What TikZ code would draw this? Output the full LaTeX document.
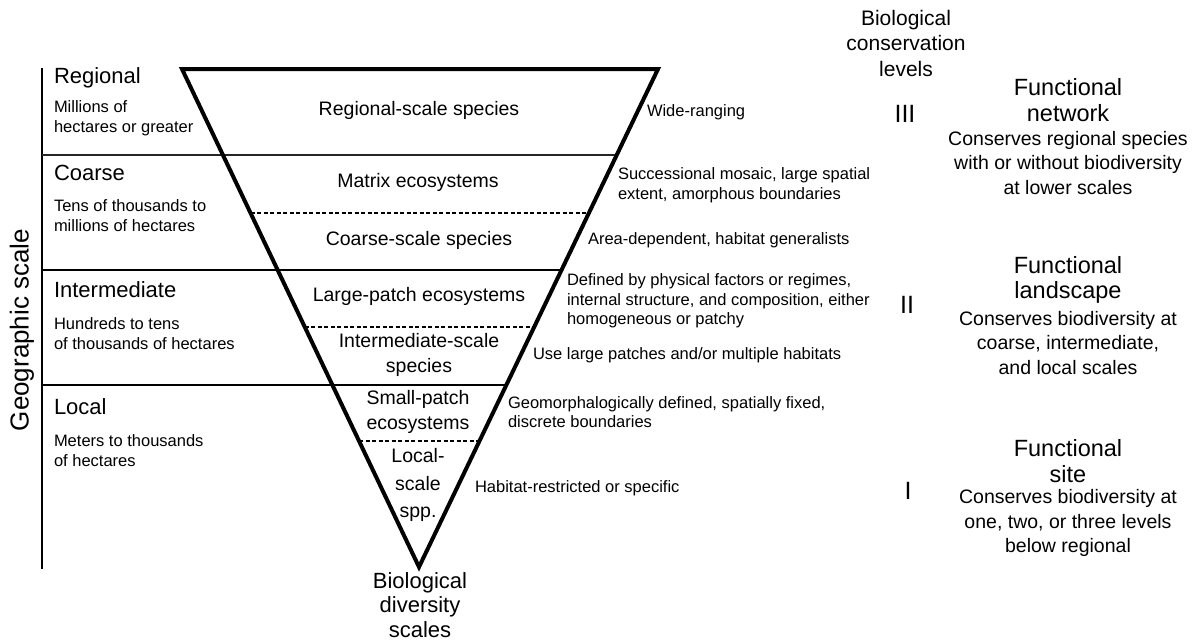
\documentclass[tikz,border=0pt]{standalone}
\usepackage{fontspec}
\setmainfont{Liberation Sans}
\usetikzlibrary{calc}

\begin{document}
\begin{tikzpicture}[x=1pt,y=-1pt,
  every node/.style={inner sep=0pt, outer sep=0pt},
  scalehead/.style={font=\fontsize{22}{25}\selectfont, anchor=west},
  scalenote/.style={font=\fontsize{16.5}{20}\selectfont, align=left, anchor=west},
  tierlabel/.style={font=\fontsize{19.5}{25}\selectfont, align=center},
  sidenote/.style={font=\fontsize{16.5}{19.5}\selectfont, align=left, anchor=west},
  levelnum/.style={font=\fontsize{25}{25}\selectfont},
  levelhead/.style={font=\fontsize{23.5}{25.5}\selectfont, align=center},
  leveltext/.style={font=\fontsize{19.5}{24.5}\selectfont, align=center},
  wedge/.style={line width=4pt, line join=miter},
  bandline/.style={line width=2pt},
  subline/.style={line width=1.3pt, dash pattern=on 4pt off 2.5pt},
]
\useasboundingbox (0,0) rectangle (1199,641);

% inverted triangle of biological diversity scales
\coordinate (tl) at (182,69);
\coordinate (tr) at (658,69);
\coordinate (ap) at (419,567);

% geographic scale axis and band boundaries
\coordinate (axtop) at (42,68);
\coordinate (axbot) at (42,569);
\draw[line width=2pt] (axtop) -- (axbot);

\coordinate (b1l) at (42,155);  \coordinate (b1r) at (616.7,155);
\coordinate (b2l) at (42,270);  \coordinate (b2r) at (561.5,270);
\coordinate (b3l) at (42,385);  \coordinate (b3r) at (506.3,385);
\draw[line width=1.3pt, black!85] (b1l) -- (b1r);
\draw[bandline] (b2l) -- (b2r);
\draw[bandline] (b3l) -- (b3r);

% dashed splits inside the triangle
\coordinate (d1l) at (250.5,213); \coordinate (d1r) at (588.9,213);
\coordinate (d2l) at (304.8,327); \coordinate (d2r) at (534.2,327);
\coordinate (d3l) at (359.0,441); \coordinate (d3r) at (479.5,441);
\draw[subline] (d1l) -- (d1r);
\draw[subline] (d2l) -- (d2r);
\draw[subline] (d3l) -- (d3r);

\draw[wedge] (tl) -- (tr) -- (ap) -- cycle;

% axis title
\node[rotate=90, font=\fontsize{26}{26}\selectfont] (geo) at (22,330) {Geographic scale};

% geographic scale bands
\node[scalehead] (reg)  at (54,78)  {Regional};
\node[scalenote] (regn) at (54,118) {Millions of\\hectares or greater};
\node[scalehead] (coa)  at (54,173) {Coarse};
\node[scalenote] (coan) at (54,216) {Tens of thousands to\\millions of hectares};
\node[scalehead] (int)  at (54,290) {Intermediate};
\node[scalenote] (intn) at (54,334) {Hundreds to tens\\of thousands of hectares};
\node[scalehead] (loc)  at (54,407) {Local};
\node[scalenote] (locn) at (54,451) {Meters to thousands\\of hectares};

% tiers inside the triangle
\node[tierlabel] (t1) at (419,110) {Regional-scale species};
\node[tierlabel] (t2) at (418,182) {Matrix ecosystems};
\node[tierlabel] (t3) at (419,240) {Coarse-scale species};
\node[tierlabel] (t4) at (419,296) {Large-patch ecosystems};
\node[tierlabel] (t5) at (419,355) {Intermediate-scale\\species};
\node[tierlabel] (t6) at (418,412) {Small-patch\\ecosystems};
\node[tierlabel, font=\fontsize{19.5}{27.5}\selectfont] (t7) at (418,485) {Local-\\scale\\spp.};
\node[tierlabel, font=\fontsize{22}{24.5}\selectfont] (bds) at (420,605) {Biological\\diversity\\scales};

% tier characteristics
\node[sidenote] (s1) at (647,112) {Wide-ranging};
\node[sidenote] (s2) at (618,185) {Successional mosaic, large spatial\\extent, amorphous boundaries};
\node[sidenote] (s3) at (588,240) {Area-dependent, habitat generalists};
\node[sidenote] (s4) at (567,301) {Defined by physical factors or regimes,\\internal structure, and composition, either\\homogeneous or patchy};
\node[sidenote] (s5) at (533,355) {Use large patches and/or multiple habitats};
\node[sidenote] (s6) at (508,412) {Geomorphalogically defined, spatially fixed,\\discrete boundaries};
\node[sidenote] (s7) at (475,488) {Habitat-restricted or specific};

% conservation levels
\node[levelhead, font=\fontsize{21}{25.5}\selectfont] (bcl) at (906,43) {Biological\\conservation\\levels};
\node[levelnum] (l3) at (905,114) {III};
\node[levelnum] (l2) at (907,305) {II};
\node[levelnum] (l1) at (908,491) {I};

\node[levelhead] (f3) at (1068,100) {Functional\\network};
\node[leveltext] (c3) at (1068,163) {Conserves regional species\\with or without biodiversity\\at lower scales};
\node[levelhead] (f2) at (1068,280) {Functional\\landscape};
\node[leveltext] (c2) at (1068,343) {Conserves biodiversity at\\coarse, intermediate,\\and local scales};
\node[levelhead] (f1) at (1068,461) {Functional\\site};
\node[leveltext] (c1) at (1068,523) {Conserves biodiversity at\\one, two, or three levels\\below regional};
\end{tikzpicture}
\end{document}
